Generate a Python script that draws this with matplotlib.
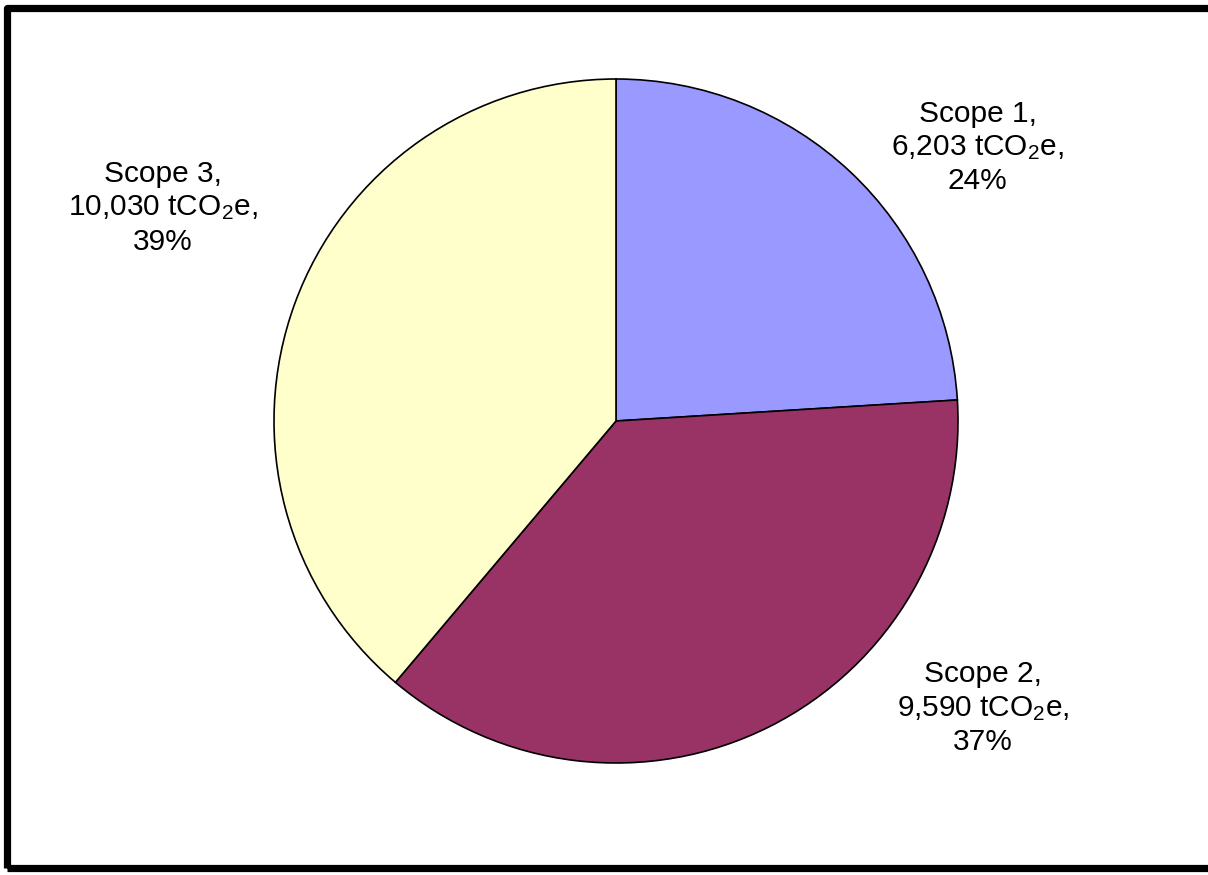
import matplotlib
matplotlib.use("Agg")
import matplotlib.pyplot as plt
from matplotlib.patches import Rectangle

plt.rcParams['font.family'] = ['Liberation Sans', 'DejaVu Sans']
plt.rcParams['mathtext.fontset'] = 'custom'
plt.rcParams['mathtext.rm'] = 'Liberation Sans'
plt.rcParams['mathtext.it'] = 'Liberation Sans'

categories = ["Scope 1", "Scope 2", "Scope 3"]
emissions = [6203, 9590, 10030]
colors = ["#9999FF", "#993366", "#FFFFCC"]
# label centres in pie-radius units
label_pos = [(1.058, 0.80), (1.073, -0.84), (-1.325, 0.623)]

W, H = 1208, 875
fig = plt.figure(figsize=(W / 100, H / 100), dpi=100)
fig.patch.set_facecolor("white")

cx, cy, r = 616, H - 421, 342
ax = fig.add_axes([(cx - r) / W, (cy - r) / H, 2 * r / W, 2 * r / H])
ax.pie(emissions, colors=colors, startangle=90, counterclock=False,
       radius=1.0, wedgeprops=dict(edgecolor="black", linewidth=1.2))
ax.set_xlim(-1, 1)
ax.set_ylim(-1, 1)
ax.set_aspect("equal")
ax.axis("off")

total = sum(emissions)
for name, val, (lx, ly) in zip(categories, emissions, label_pos):
    pct = round(100 * val / total)
    txt = f"{name},\n{val:,} tCO$_2$e,\n{pct}%"
    ax.text(lx, ly, txt, ha="center", va="center", multialignment="center",
            fontsize=21.5, linespacing=1.25, clip_on=False)

# outer chart frame
fig.patches.append(Rectangle((7.5 / W, 7 / H), (1210.5 - 7.5) / W, (H - 14.5) / H,
                             transform=fig.transFigure, fill=False,
                             edgecolor="black", linewidth=5.2,
                             joinstyle="round"))

fig.savefig("out.png", dpi=100)
